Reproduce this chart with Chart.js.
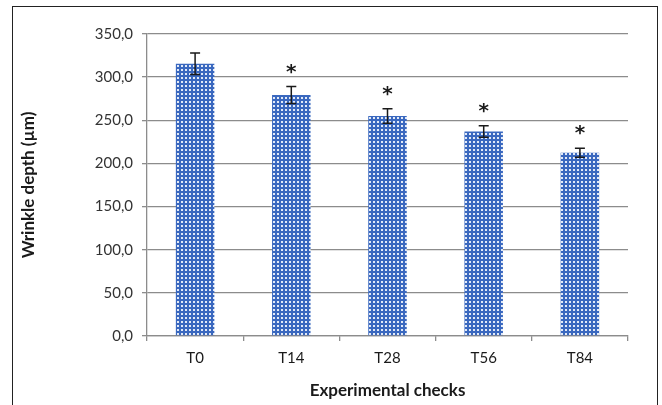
<!DOCTYPE html>
<html>
<head>
<meta charset="utf-8">
<script src="https://cdn.jsdelivr.net/npm/chart.js@4"></script>
<style>
  html, body { margin: 0; padding: 0; background: #fff; }
  #wrap { position: relative; width: 662px; height: 405px; }
  #frame { position: absolute; left: 12px; top: 6px; width: 646px; height: 420px; border: 1.5px solid #222; box-sizing: border-box; }
  canvas { position: absolute; left: 0; top: 0; }
</style>
</head>
<body>
<div id="wrap">
  <div id="frame"></div>
  <canvas id="chart" width="662" height="405"></canvas>
</div>
<script>
const checks = ['T0', 'T14', 'T28', 'T56', 'T84']
const depth = [315.5, 279.3, 255.0, 237.0, 212.5]
const depthErr = [12.5, 9.8, 8.3, 6.7, 5.2]
const signif = ['', '*', '*', '*', '*']
const yTicks = [0, 50, 100, 150, 200, 250, 300, 350]

const makePattern = () => {
  const c = document.createElement('canvas')
  c.width = 4
  c.height = 4
  const ctx = c.getContext('2d')
  ctx.fillStyle = '#3a68bf'
  ctx.fillRect(0, 0, 4, 4)
  ctx.fillStyle = '#e2eaf8'
  ctx.fillRect(1, 1, 2, 2)
  return ctx.createPattern(c, 'repeat')
}

const errorBars = {
  id: 'errorBars',
  afterDatasetsDraw(chart) {
    const { ctx, scales: { x, y } } = chart
    ctx.save()
    ctx.strokeStyle = '#1a1a1a'
    ctx.lineWidth = 1.5
    depth.forEach((v, i) => {
      const px = x.getPixelForValue(i)
      const top = y.getPixelForValue(v + depthErr[i])
      const bot = y.getPixelForValue(v - depthErr[i])
      ctx.beginPath()
      ctx.moveTo(px, top); ctx.lineTo(px, bot)
      ctx.moveTo(px - 5, top); ctx.lineTo(px + 5, top)
      ctx.moveTo(px - 5, bot); ctx.lineTo(px + 5, bot)
      ctx.stroke()
      if (signif[i]) {
        ctx.fillStyle = '#1a1a1a'
        ctx.font = 'bold 20px "DejaVu Sans"'
        ctx.textAlign = 'center'
        ctx.textBaseline = 'middle'
        ctx.fillText(signif[i], px, top - 14)
      }
    })
    ctx.restore()
  }
}

new Chart(document.getElementById('chart'), {
  type: 'bar',
  data: {
    labels: checks,
    datasets: [{
      data: depth,
      backgroundColor: makePattern(),
      borderWidth: 0,
      categoryPercentage: 1,
      barPercentage: 0.4
    }]
  },
  options: {
    responsive: false,
    animation: false,
    layout: { padding: { left: 14, top: 34, right: 34, bottom: 0 } },
    plugins: { legend: { display: false }, tooltip: { enabled: false } },
    scales: {
      x: {
        grid: { offset: true, drawOnChartArea: false, color: '#8c8c8c', tickLength: 5, lineWidth: 1.3 },
        border: { color: '#8c8c8c', width: 1.3 },
        ticks: { color: '#1a1a1a', font: { family: 'Lato', size: 15 }, padding: 8 },
        title: { display: true, text: 'Experimental checks', color: '#1a1a1a', font: { family: 'Lato', size: 17, weight: 'bold' }, padding: { top: 5 } },
        afterFit: (s) => { s.height = 69 }
      },
      y: {
        min: 0,
        max: 350,
        afterBuildTicks: (s) => { s.ticks = yTicks.map(v => ({ value: v })) },
        grid: { color: '#8c8c8c', tickLength: 5, lineWidth: 1.3 },
        border: { color: '#8c8c8c', width: 1.3 },
        ticks: {
          color: '#333',
          font: { family: 'Lato', size: 15 },
          padding: 9,
          callback: (v) => v.toFixed(1).replace('.', ',')
        },
        title: { display: true, text: 'Wrinkle depth (µm)', color: '#1a1a1a', font: { family: 'Lato', size: 17, weight: 'bold' } },
        afterFit: (s) => { s.width = 133 }
      }
    }
  },
  plugins: [errorBars]
})
</script>
</body>
</html>
